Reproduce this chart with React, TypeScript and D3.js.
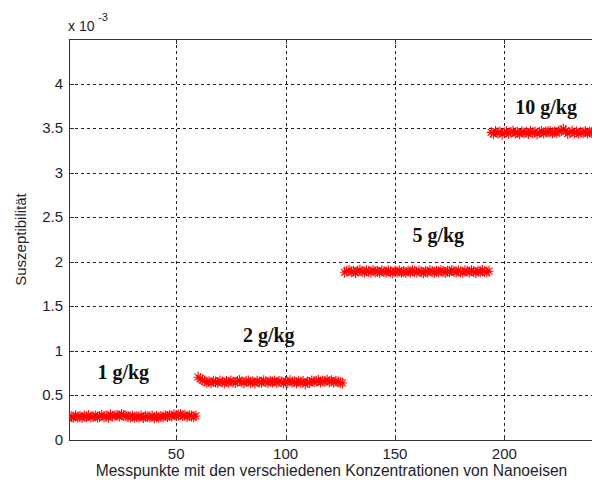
import React from 'react';
import * as d3 from 'd3';

// values in units of 1e-3
const seg1Start = 1;
const seg1 = [0.248,0.262,0.255,0.271,0.259,0.266,0.252,0.268,0.261,0.274,0.257,0.263,0.270,0.258,0.265,0.276,0.262,0.269,0.255,0.281,0.266,0.272,0.279,0.268,0.285,0.274,0.270,0.263,0.259,0.267,0.254,0.261,0.258,0.270,0.253,0.264,0.260,0.257,0.268,0.250,0.262,0.256,0.265,0.259,0.271,0.263,0.276,0.268,0.282,0.274,0.279,0.286,0.271,0.277,0.265,0.273,0.268,0.262,0.270];
const seg2Start = 60;
const seg2 = [0.705,0.688,0.672,0.661,0.648,0.655,0.642,0.659,0.651,0.646,0.662,0.653,0.640,0.657,0.649,0.663,0.652,0.645,0.658,0.667,0.650,0.643,0.656,0.661,0.648,0.654,0.639,0.660,0.652,0.647,0.665,0.655,0.644,0.659,0.651,0.662,0.646,0.657,0.653,0.641,0.658,0.649,0.664,0.652,0.655,0.643,0.660,0.648,0.656,0.628,0.651,0.645,0.662,0.654,0.659,0.668,0.650,0.663,0.657,0.671,0.655,0.666,0.649,0.660,0.653,0.645,0.640];
const seg3Start = 127;
const seg3 = [1.882,1.895,1.901,1.887,1.893,1.879,1.896,1.905,1.890,1.884,1.898,1.892,1.886,1.902,1.889,1.894,1.881,1.897,1.891,1.885,1.899,1.888,1.878,1.893,1.887,1.896,1.883,1.890,1.880,1.894,1.886,1.899,1.891,1.884,1.897,1.889,1.876,1.892,1.885,1.898,1.890,1.883,1.895,1.888,1.900,1.892,1.879,1.894,1.887,1.903,1.891,1.884,1.896,1.889,1.882,1.897,1.893,1.886,1.899,1.890,1.881,1.895,1.888,1.901,1.892,1.885,1.894];
const seg4Start = 194;
const seg4 = [3.452,3.438,3.461,3.447,3.455,3.432,3.449,3.458,3.441,3.453,3.466,3.444,3.451,3.437,3.459,3.446,3.454,3.440,3.462,3.448,3.457,3.435,3.450,3.463,3.445,3.456,3.458,3.462,3.449,3.455,3.447,3.466,3.472,3.486,3.469,3.439,3.452,3.464,3.446,3.457,3.441,3.453,3.449,3.461,3.444,3.456,3.450,3.458];

const xTicks = [50, 100, 150, 200];
const yTicks = [0, 0.5, 1, 1.5, 2, 2.5, 3, 3.5, 4];

// labels: [text, x, y] in data coords
const labels: [string, number, number][] = [
  ['1 g/kg', 14, 0.68],
  ['2 g/kg', 80.5, 1.1],
  ['5 g/kg', 158, 2.22],
  ['10 g/kg', 205, 3.66],
];

export default function App() {
  const width = 592;
  const height = 481;
  const m = { left: 69, top: 39, right: 594, bottom: 440 };

  const x = d3.scaleLinear().domain([1, 241]).range([m.left, m.right]);
  const y = d3.scaleLinear().domain([0, 4.5]).range([m.bottom, m.top]);

  const points: [number, number][] = [];
  [[seg1Start, seg1], [seg2Start, seg2], [seg3Start, seg3], [seg4Start, seg4]].forEach(([s, arr]) => {
    (arr as number[]).forEach((v, i) => points.push([(s as number) + i, v]));
  });

  // MATLAB-style '*' marker
  const rh = 4.5;
  const rv = 5.5;
  const d2 = 3.5;
  const star = `M${-rh},0H${rh}M0,${-rv}V${rv}M${-d2},${-d2}L${d2},${d2}M${-d2},${d2}L${d2},${-d2}`;

  const font = 'Arial, "Liberation Sans", sans-serif';
  const tc = '#1e1e2e';

  return (
    <svg width={width} height={height} style={{ position: 'absolute', left: 0, top: 0, background: '#fff' }}>
      <defs>
        <clipPath id="plot">
          <rect x={m.left} y={m.top - 5} width={m.right - m.left} height={m.bottom - m.top + 10} />
        </clipPath>
      </defs>
      {/* grid */}
      <g stroke="#222" strokeWidth={1} strokeDasharray="3,3">
        {xTicks.map((t) => (
          <line key={'gx' + t} x1={Math.round(x(t)) + 0.5} x2={Math.round(x(t)) + 0.5} y1={m.top} y2={m.bottom} />
        ))}
        {yTicks.slice(1).map((t) => (
          <line key={'gy' + t} x1={m.left} x2={width} y1={Math.round(y(t)) + 0.5} y2={Math.round(y(t)) + 0.5} />
        ))}
      </g>
      {/* axes */}
      <g stroke="#333" strokeWidth={1}>
        <line x1={m.left + 0.5} x2={m.left + 0.5} y1={m.top} y2={m.bottom} />
        <line x1={m.left} x2={width} y1={m.bottom + 0.5} y2={m.bottom + 0.5} />
        <line x1={m.left} x2={width} y1={m.top + 0.5} y2={m.top + 0.5} />
        {xTicks.map((t) => (
          <g key={'tx' + t}>
            <line x1={Math.round(x(t)) + 0.5} x2={Math.round(x(t)) + 0.5} y1={m.bottom} y2={m.bottom - 5} />
            <line x1={Math.round(x(t)) + 0.5} x2={Math.round(x(t)) + 0.5} y1={m.top} y2={m.top + 5} />
          </g>
        ))}
        {yTicks.map((t) => (
          <line key={'ty' + t} x1={m.left} x2={m.left + 5} y1={Math.round(y(t)) + 0.5} y2={Math.round(y(t)) + 0.5} />
        ))}
      </g>
      {/* tick labels */}
      <g fontFamily={font} fontSize={15} fill={tc}>
        {xTicks.map((t) => (
          <text key={'lx' + t} x={x(t)} y={m.bottom + 19} textAnchor="middle">{t}</text>
        ))}
        {yTicks.map((t) => (
          <text key={'ly' + t} x={m.left - 6} y={y(t) + 5} textAnchor="end">{t}</text>
        ))}
        <text x={68} y={31} fontSize={14}>x 10</text>
        <text x={98} y={21} fontSize={11}>-3</text>
        <text x={(m.left + m.right) / 2} y={476} textAnchor="middle" fontSize={15.6}>
          Messpunkte mit den verschiedenen Konzentrationen von Nanoeisen
        </text>
        <text transform={`translate(26,${(m.top + m.bottom) / 2}) rotate(-90)`} textAnchor="middle" fontSize={15}>
          Suszeptibilität
        </text>
      </g>
      {/* data */}
      <g clipPath="url(#plot)" stroke="#ff0000" strokeWidth={1.1} fill="none">
        {points.map(([px, py], i) => (
          <path key={i} d={star} transform={`translate(${x(px)},${y(py)})`} />
        ))}
      </g>
      {/* annotations */}
      <g fontFamily='"Liberation Serif", "Times New Roman", serif' fontWeight="bold" fontSize={20} fill="#111">
        {labels.map(([t, lx, ly]) => (
          <text key={t} x={x(lx)} y={y(ly)}>{t}</text>
        ))}
      </g>
    </svg>
  );
}
